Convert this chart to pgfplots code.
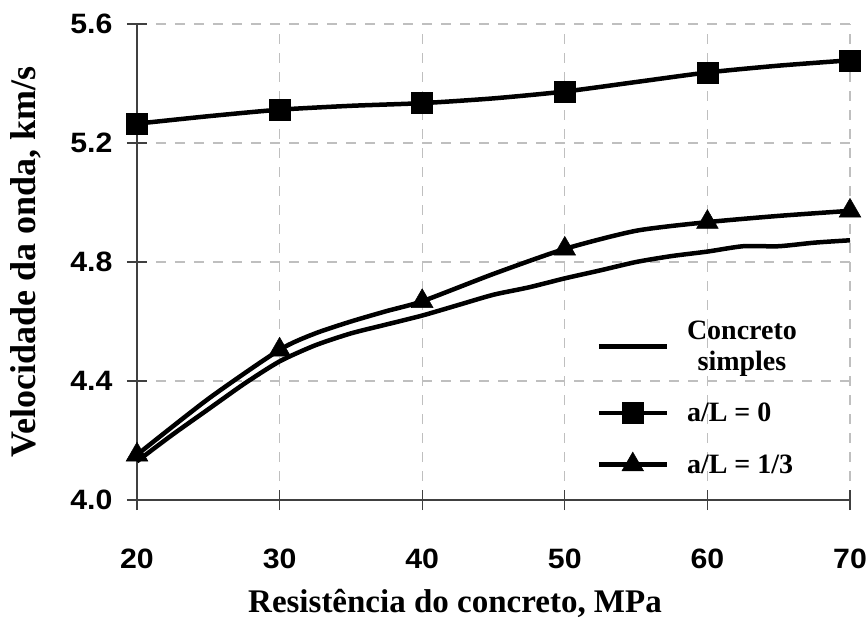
\documentclass[border=0pt]{standalone}
\usepackage{fontspec}
\setmainfont{Liberation Serif}
\newfontfamily\tickfont{Liberation Sans Bold}[FakeStretch=1.08]
\usepackage{pgfplots}
\pgfplotsset{compat=1.18}
\begin{document}
\begin{tikzpicture}
\useasboundingbox (-137pt,-126pt) rectangle (730pt,500pt);
\begin{axis}[
 scale only axis, width=713pt, height=476pt,
 xmin=20,xmax=70,ymin=4.0,ymax=5.6,
 xtick={20,30,40,50,60,70}, xticklabels={20,30,40,50,60,70},
 ytick={4.0,4.4,4.8,5.2,5.6}, yticklabels={4.0,4.4,4.8,5.2,5.6},
 axis x line=bottom, axis y line=left,
 axis line style={-, line width=1.2pt, black!75},
 tick align=center, major tick length=20pt,
 tick style={line width=1.2pt, black!75},
 grid=major,
 major grid style={gray!50, line width=1.2pt, dash pattern=on 10pt off 9pt},
 ticklabel style={font=\tickfont\fontsize{28}{30}\selectfont},
 xticklabel style={yshift=-35pt},
 yticklabel style={xshift=-11pt},
 xlabel={Resistência do concreto, MPa},
 ylabel={Velocidade da onda, km/s},
 every axis x label/.style={at={(axis description cs:0.446,-0.218)}, anchor=center, font=\bfseries\fontsize{33}{36}\selectfont},
 every axis y label/.style={at={(axis description cs:-0.156,0.5)}, anchor=center, rotate=90, font=\bfseries\fontsize{36}{38}\selectfont},
 legend style={at={(axis description cs:0.64,0.385)}, anchor=north west, draw=none, fill=none,
   font=\bfseries\fontsize{28}{31}\selectfont, cells={align=center}, row sep=27pt},
 legend cell align=left,
 legend image code/.code={\draw[#1, mark indices={2}] plot coordinates {(0pt,0pt) (34pt,0pt) (68pt,0pt)};\path (84pt,0pt);},
]
\addplot[black, line width=4.5pt, smooth, tension=0.4] coordinates {
(20,4.13) (22.5,4.22) (25,4.305) (27.5,4.39) (30,4.466) (32.5,4.52) (35,4.56) (37.5,4.59) (40,4.62)
(42.5,4.655) (45,4.69) (47.5,4.715) (50,4.745) (52.5,4.772) (55,4.80) (57.5,4.82) (60,4.835)
(62.5,4.853) (65,4.853) (67.5,4.865) (70,4.873)};
\addlegendentry{Concreto\\simples}
\addplot[black, line width=4.5pt, smooth, tension=0.4, mark=square*, mark size=10.5pt,
  mark options={solid, line width=0.5pt}, mark indices={1,3,5,7,9,11}] coordinates {
(20,5.265) (25,5.29) (30,5.312) (35,5.325) (40,5.334) (45,5.35) (50,5.373) (55,5.405) (60,5.437) (65,5.46) (70,5.478)};
\addlegendentry{a/L = 0}
\addplot[black, line width=4.5pt, smooth, tension=0.4, mark=triangle*, mark size=12.5pt,
  mark options={solid, line width=0.5pt}, mark indices={1,3,7,9,11,13}] coordinates {
(20,4.152) (25,4.34) (30,4.505) (32.5,4.56) (35,4.60) (37.5,4.635) (40,4.668) (45,4.76) (50,4.844)
(55,4.905) (60,4.934) (65,4.955) (70,4.972)};
\addlegendentry{a/L = 1/3}
\end{axis}
\end{tikzpicture}
\end{document}
